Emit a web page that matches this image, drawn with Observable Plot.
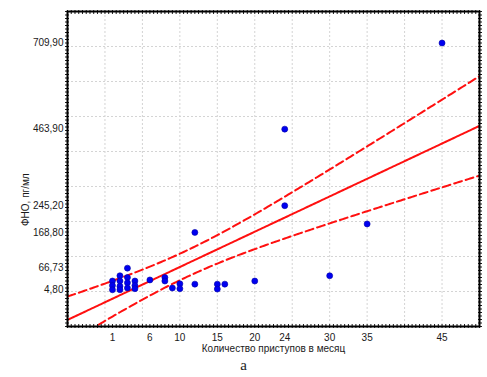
<!DOCTYPE html>
<html><head><meta charset="utf-8">
<script src="https://cdn.jsdelivr.net/npm/d3@7"></script>
<script src="https://cdn.jsdelivr.net/npm/@observablehq/plot@0.6"></script>
<style>
body{margin:0;background:#fff;}
</style>
</head><body><div id="chart"></div>
<script>
// Data
const attacks = [1,1,1, 2,2,2,2, 3,3,3,3, 4,4,4, 6, 8,8, 9, 10,10, 12,12, 15,15, 16, 20, 24,24, 30, 35, 45];
const tnf     = [30,17,5, 45,30,15,5, 66.73,40,25,10, 30,17,8, 33, 40,30, 10, 22,8, 21,168.8, 21,7, 21, 30, 463.9,245.2, 45, 193, 709.9];
const xTicks = [1,6,10,15,20,24,30,35,45];
const yTicks = [4.80,66.73,168.80,245.20,463.90,709.90];
const xLabel = "Количество приступов в месяц";
const yLabel = "ФНО, пг/мл";
const caption = "a";

const points = attacks.map((x, i) => ({x, y: tnf[i]}));

// Linear regression with 95% confidence interval of the mean
const n = points.length;
const mx = d3.mean(attacks), my = d3.mean(tnf);
const sxx = d3.sum(attacks, x => (x - mx) ** 2);
const sxy = d3.sum(points, p => (p.x - mx) * (p.y - my));
const b = sxy / sxx, a = my - b * mx;
const sse = d3.sum(points, p => (p.y - (a + b * p.x)) ** 2);
const s = Math.sqrt(sse / (n - 2));
const tval = 2.045; // t(0.975, df = 29)
const band = d3.range(-5, 50.001, 0.25).map(x => {
  const f = a + b * x;
  const h = tval * s * Math.sqrt(1 / n + (x - mx) ** 2 / sxx);
  return {x, f, lo: f - h, hi: f + h};
});

const fmt = d => d.toFixed(2).replace(".", ",");
const gridStyle = {stroke: "#d4d4d4", strokeOpacity: 1, strokeDasharray: "2,2"};

const plot = Plot.plot({
  width: 487, height: 377,
  marginLeft: 67, marginRight: 8, marginTop: 11, marginBottom: 51,
  style: {fontFamily: "'Liberation Sans', Arial, sans-serif", fontSize: "10px", color: "#1a1a1a", background: "#fff", overflow: "visible"},
  x: {domain: [-5, 50], label: null},
  y: {domain: [-100, 800], label: null},
  marks: [
    Plot.gridX({ticks: d3.range(0, 50, 5), ...gridStyle}),
    Plot.gridY({ticks: d3.range(0, 800, 100), ...gridStyle}),
    Plot.line(band, {x: "x", y: "lo", stroke: "#ff1010", strokeWidth: 2, strokeDasharray: "8,4", clip: true}),
    Plot.line(band, {x: "x", y: "hi", stroke: "#ff1010", strokeWidth: 2, strokeDasharray: "8,4", clip: true}),
    Plot.line(band, {x: "x", y: "f", stroke: "#ff1010", strokeWidth: 2, clip: true}),
    Plot.dot(points, {x: "x", y: "y", r: 3, fill: "#0000f0", stroke: "#0000a8", strokeWidth: 0.6}),
    Plot.axisX({ticks: xTicks, tickSize: 0, tickPadding: 7, label: null}),
    Plot.axisY({ticks: yTicks, tickSize: 0, tickPadding: 4, tickFormat: fmt, label: null}),
    Plot.axisX({anchor: "bottom", ticks: d3.range(-5, 50.01, 0.5), tickSize: 4, dy: -2, tickFormat: () => "", label: null}),
    Plot.axisX({anchor: "top", ticks: d3.range(-5, 50.01, 0.5), tickSize: 4, dy: 2, tickFormat: () => "", label: null}),
    Plot.axisY({anchor: "left", ticks: d3.range(-100, 800.1, 10), tickSize: 4, dx: 2, tickFormat: () => "", label: null}),
    Plot.axisY({anchor: "right", ticks: d3.range(-100, 800.1, 10), tickSize: 4, dx: -2, tickFormat: () => "", label: null}),
    Plot.frame({stroke: "#000", strokeWidth: 2}),
    Plot.text([xLabel], {text: d => d, frameAnchor: "bottom", dy: 25, fill: "#1a1a1a", fontSize: 10}),
    Plot.text([yLabel], {text: d => d, frameAnchor: "left", rotate: -90, dx: -42, dy: 57, fill: "#1a1a1a", fontSize: 10}),
    Plot.text([caption], {text: d => d, frameAnchor: "bottom", dy: 43, dx: -30, fontFamily: "'Liberation Serif', 'Times New Roman', serif", fontSize: 15, fill: "#222"})
  ]
});
document.getElementById("chart").appendChild(plot);
</script>
</body></html>
